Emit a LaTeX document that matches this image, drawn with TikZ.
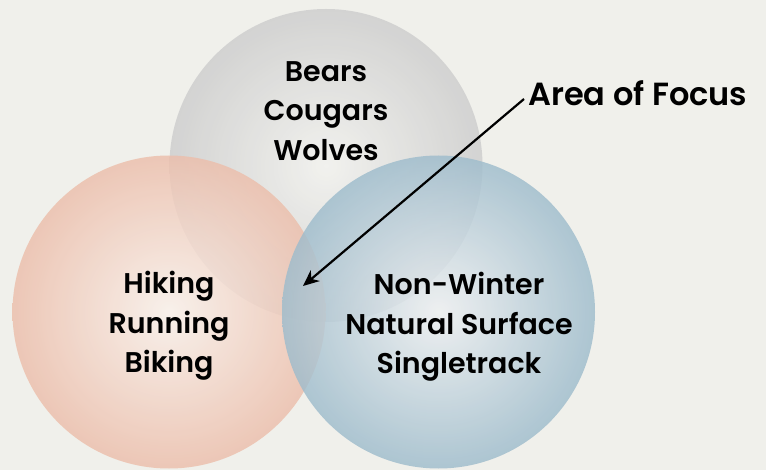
\documentclass[tikz,border=0pt]{standalone}
\usepackage{fontspec}
\setmainfont{Poppins}[BoldFont={Poppins SemiBold}]
\usetikzlibrary{arrows.meta}
\definecolor{bgcol}{HTML}{F0F0EB}
\definecolor{grayin}{HTML}{F2F2EF}
\definecolor{grayout}{HTML}{CDCDCD}
\definecolor{salmin}{HTML}{FAF1EB}
\definecolor{salmout}{HTML}{ECBEAB}
\definecolor{bluein}{HTML}{EEF0F2}
\definecolor{blueout}{HTML}{9EBCCC}

\tikzset{
	lbl/.style={align=center,font=\bfseries\fontsize{28.5}{39.5}\selectfont,text=black,inner sep=0pt},
	pointer/.style={line width=2.2pt,-{Stealth[length=16pt,width=14pt,inset=5pt]}}
}

\begin{document}
\begin{tikzpicture}[x=1pt,y=-1pt]
\useasboundingbox (0,0) rectangle (766,470);
\fill[bgcol] (0,0) rectangle (766,470);
\foreach \cx/\cy/\inner/\outer in {
	326/165.5/grayin/grayout,
	169/312/salmin/salmout,
	438.5/312/bluein/blueout%
	}{
	\shade[inner color=\inner,outer color=\outer,fill opacity=0.82] (\cx,\cy) circle (156.5);
	}
\node[lbl] (animals) at (326,111) {Bears\\Cougars\\Wolves};
\node[lbl] (sports) at (169,326) {Hiking\\Running\\Biking};
\node[lbl] (trails) at (459,327) {Non-Winter\\Natural Surface\\Singletrack};
\node[lbl,font=\bfseries\fontsize{32}{36}\selectfont,anchor=west] (focus) at (528,93) {Area of Focus};
\coordinate (focuspt) at (303,286);
\draw[pointer] ([xshift=-4pt,yshift=-6pt]focus.west) -- (focuspt);
\end{tikzpicture}
\end{document}
